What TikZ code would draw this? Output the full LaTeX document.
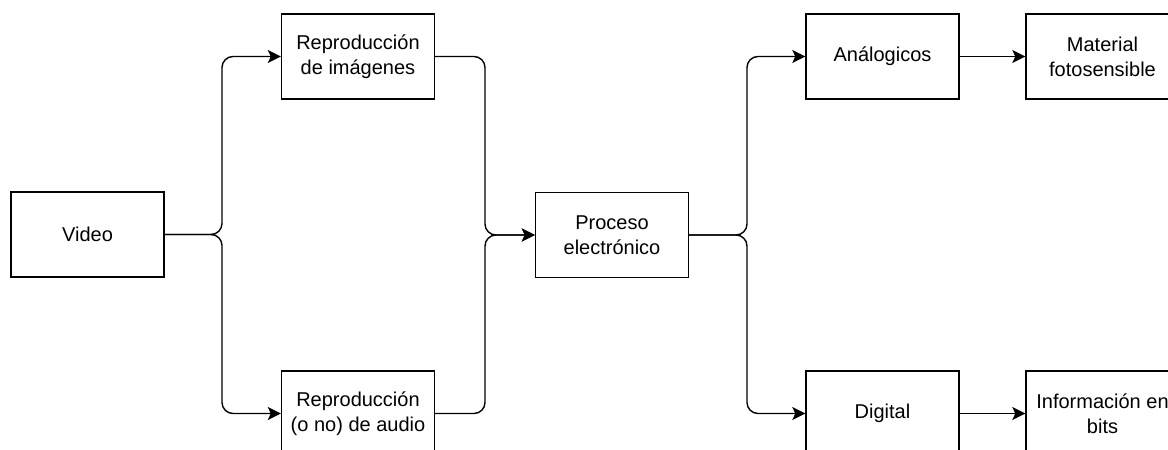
\documentclass[tikz,border=0pt]{standalone}
\usepackage{fontspec}
\setmainfont{Liberation Sans}
\usetikzlibrary{arrows.meta}
\begin{document}
\begin{tikzpicture}[x=1pt,y=-1pt,
  box/.style={draw, line width=1.4pt, minimum width=153pt, minimum height=85pt,
    inner sep=2pt, align=center, font=\fontsize{20}{25}\selectfont},
  conn/.style={line width=1.4pt, rounded corners=11pt,
    -{Stealth[length=13pt,width=13pt,inset=3pt]}}]
\useasboundingbox (0,0) rectangle (1168,450);

% blocks
\node[box] (video)   at (87.5,234.5)  {Video};
\node[box] (imgs)    at (358,56.5)    {Reproducción\\de imágenes};
\node[box] (audio)   at (358,413.5)   {Reproducción\\(o no) de audio};
\node[box] (proc)    at (612,235)     {Proceso\\electrónico};
\node[box] (analog)  at (882.5,56.5)  {Análogicos};
\node[box] (matfoto) at (1102.5,56.5) {Material\\fotosensible};
\node[box] (digital) at (882.5,413.5) {Digital};
\node[box] (bits)    at (1102.5,413.5){Información en\\bits};

% branch and merge points
\coordinate (split1) at (222,234.5);
\coordinate (merge1) at (485,235);
\coordinate (split2) at (747,235);

% connectors
\draw[conn] (video.east) -- (split1) |- (imgs.west);
\draw[conn] (video.east) -- (split1) |- (audio.west);
\draw[conn] (imgs.east) -| (merge1) -- (proc.west);
\draw[conn] (audio.east) -| (merge1) -- (proc.west);
\draw[conn] (proc.east) -- (split2) |- (analog.west);
\draw[conn] (proc.east) -- (split2) |- (digital.west);
\draw[conn] (analog.east) -- (matfoto.west);
\draw[conn] (digital.east) -- (bits.west);
\end{tikzpicture}
\end{document}
